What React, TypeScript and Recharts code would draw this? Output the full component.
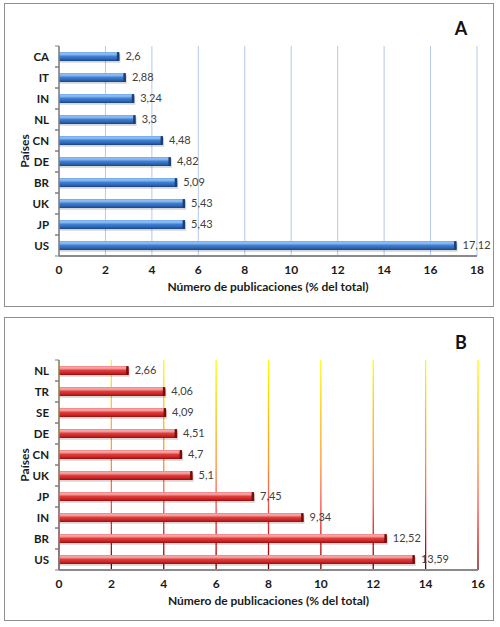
import React from 'react';
import { BarChart, Bar, XAxis, YAxis, CartesianGrid, LabelList } from 'recharts';

const countriesA = ['CA', 'IT', 'IN', 'NL', 'CN', 'DE', 'BR', 'UK', 'JP', 'US'];
const valuesA = [2.6, 2.88, 3.24, 3.3, 4.48, 4.82, 5.09, 5.43, 5.43, 17.12];
const ticksA = [0, 2, 4, 6, 8, 10, 12, 14, 16, 18];

const countriesB = ['NL', 'TR', 'SE', 'DE', 'CN', 'UK', 'JP', 'IN', 'BR', 'US'];
const valuesB = [2.66, 4.06, 4.09, 4.51, 4.7, 5.1, 7.45, 9.34, 12.52, 13.59];
const ticksB = [0, 2, 4, 6, 8, 10, 12, 14, 16];

const xTitle = 'Número de publicaciones  (% del total)';
const yTitle = 'Países';

const W = 488;
const H = 302;
const FONT = 'Lato, "Open Sans", sans-serif';

const fmt = (v: any) => String(v).replace('.', ',');

const YTick = (props: any) => {
  const { x, y, payload } = props;
  const off = payload && typeof payload.offset === 'number' ? payload.offset : 10.5;
  const ax = x + 10;
  return (
    <g>
      <text x={x} y={y} textAnchor="end" dominantBaseline="central" fontSize={11.5} fontWeight={700} fill="#1a1a1a" fontFamily={FONT}>
        {payload.value}
      </text>
      <line x1={ax - 4} x2={ax} y1={y - off} y2={y - off} stroke="#7f7f7f" strokeWidth={1} />
      <line x1={ax - 4} x2={ax} y1={y + off} y2={y + off} stroke="#7f7f7f" strokeWidth={1} />
    </g>
  );
};

const makeBar = (grad: string, cap: string) => (props: any) => {
  const { x, y, width, height } = props;
  if (!width || width <= 0) return <g />;
  return (
    <g>
      <rect x={x + 1} y={y + 1.8} width={width} height={height} fill="#000" opacity={0.16} />
      <rect x={x} y={y} width={width} height={height} fill={`url(#${grad})`} />
      <rect x={x + width - 2.5} y={y} width={2.5} height={height} rx={1} fill={cap} />
    </g>
  );
};

const BlueBar = makeBar('barBlue', '#1b3f78');
const RedBar = makeBar('barRed', '#7a0c0c');

function Panel(props: {
  countries: string[];
  values: number[];
  ticks: number[];
  letter: string;
  top: number;
  gridStroke: string;
  gridWidth: number;
  shape: any;
  marginRight: number;
}) {
  const { countries, values, ticks, letter, top, gridStroke, gridWidth, shape, marginRight } = props;
  const data = countries.map((c, i) => ({ c, v: values[i] }));
  const max = ticks[ticks.length - 1];
  return (
    <div
      style={{
        position: 'absolute',
        left: 4,
        top,
        width: W + 2,
        height: H + 2,
        boxSizing: 'border-box',
        border: '1px solid #8f8f8f',
        background: '#fff',
      }}
    >
      <BarChart
        width={W}
        height={H}
        data={data}
        layout="vertical"
        margin={{ top: 42, right: marginRight, bottom: 0, left: 0 }}
        barCategoryGap={0}
      >
        <CartesianGrid horizontal={false} vertical={true} stroke={gridStroke} strokeWidth={gridWidth} />
        <XAxis
          type="number"
          domain={[0, max]}
          ticks={ticks}
          interval={0}
          tickLine={false}
          axisLine={{ stroke: '#8a8a8a', strokeWidth: 2 }}
          height={50}
          tickSize={6}
          tickMargin={3}
          tick={{ fontSize: 12, fontWeight: 700, fill: '#1a1a1a', fontFamily: FONT }}
          label={{ value: xTitle, position: 'insideBottom', offset: 15, fontSize: 12, fontWeight: 700, fill: '#1a1a1a', fontFamily: FONT }}
        />
        <YAxis
          type="category"
          dataKey="c"
          width={54}
          tickLine={false}
          tickSize={5}
          tickMargin={5}
          axisLine={{ stroke: '#7f7f7f', strokeWidth: 1.5 }}
          tick={<YTick />}
          interval={0}
        />
        <Bar dataKey="v" barSize={9} shape={shape} isAnimationActive={false}>
          <LabelList dataKey="v" position="right" offset={6} formatter={fmt} fill="#404040" fontSize={11} fontFamily={FONT} />
        </Bar>
      </BarChart>
      <svg width={W} height={H} style={{ position: 'absolute', left: 0, top: 0, pointerEvents: 'none' }}>
        <text
          x={19}
          y={147}
          transform="rotate(-90 19 147)"
          textAnchor="middle"
          dominantBaseline="central"
          fontSize={12}
          fontWeight={700}
          fill="#1a1a1a"
          fontFamily={FONT}
        >
          {yTitle}
        </text>
        <text x={456} y={24} textAnchor="middle" dominantBaseline="central" fontSize={18} fontWeight={700} fill="#111" fontFamily={FONT}>
          {letter}
        </text>
      </svg>
    </div>
  );
}

export default function App() {
  return (
    <div style={{ position: 'absolute', left: 0, top: 0, width: 500, height: 627, background: '#fff', fontFamily: FONT }}>
      <svg width={0} height={0} style={{ position: 'absolute', left: 0, top: 0 }}>
        <defs>
          <linearGradient id="barBlue" x1="0" y1="0" x2="0" y2="1">
            <stop offset="0" stopColor="#6ea8ec" />
            <stop offset="0.22" stopColor="#96c2f4" />
            <stop offset="0.5" stopColor="#3f7fd3" />
            <stop offset="0.8" stopColor="#2c63b0" />
            <stop offset="1" stopColor="#1a4282" />
          </linearGradient>
          <linearGradient id="barRed" x1="0" y1="0" x2="0" y2="1">
            <stop offset="0" stopColor="#ef8080" />
            <stop offset="0.22" stopColor="#f8b0b0" />
            <stop offset="0.5" stopColor="#e03c3c" />
            <stop offset="0.8" stopColor="#c82222" />
            <stop offset="1" stopColor="#8c1010" />
          </linearGradient>
          <linearGradient id="gridFire" gradientUnits="userSpaceOnUse" x1="0" y1="42" x2="0" y2="252">
            <stop offset="0" stopColor="#ffff00" />
            <stop offset="0.25" stopColor="#ffc400" />
            <stop offset="0.5" stopColor="#ff9030" />
            <stop offset="0.68" stopColor="#ff5050" />
            <stop offset="0.85" stopColor="#e01010" />
            <stop offset="1" stopColor="#6a0000" />
          </linearGradient>
        </defs>
      </svg>
      <Panel
        countries={countriesA}
        values={valuesA}
        ticks={ticksA}
        letter="A"
        top={3}
        gridStroke="#b4c9ea"
        gridWidth={1}
        shape={BlueBar}
        marginRight={16}
      />
      <Panel
        countries={countriesB}
        values={valuesB}
        ticks={ticksB}
        letter="B"
        top={317}
        gridStroke="url(#gridFire)"
        gridWidth={1.3}
        shape={RedBar}
        marginRight={15}
      />
    </div>
  );
}
